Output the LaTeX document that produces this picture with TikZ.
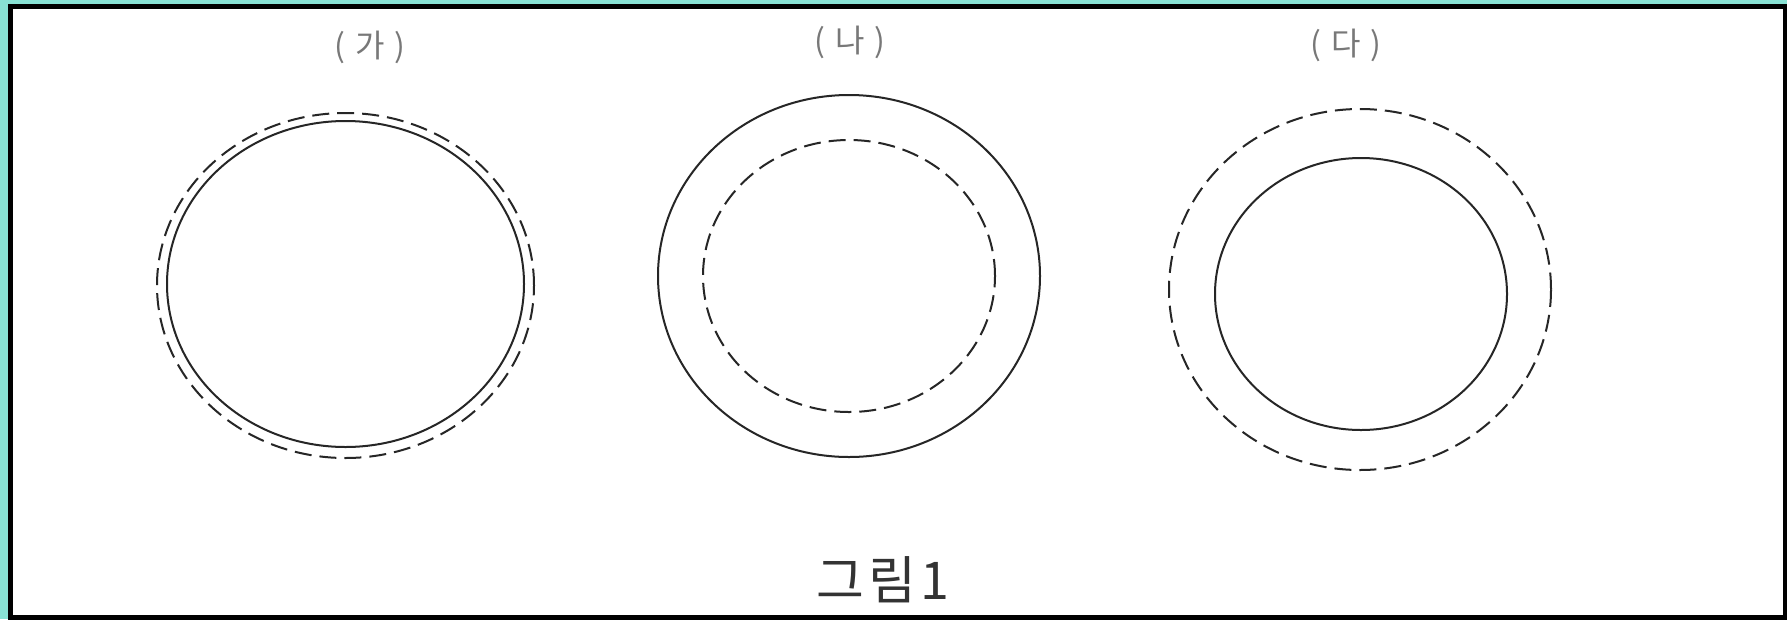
\documentclass[tikz,border=0pt]{standalone}
\usepackage{fontspec}
\newfontfamily\kr{Noto Sans CJK KR}
\definecolor{teal0}{RGB}{136,226,212}
\definecolor{labgray}{RGB}{120,120,120}
\tikzset{
  solidring/.style={draw=black!85, line width=2pt},
  dashring/.style={draw=black!85, line width=2pt, dash pattern=on 17pt off 8pt},
  lab/.style={text=labgray, font=\kr\fontsize{32}{36}\selectfont, inner sep=0pt},
  captext/.style={text=black!80, font=\kr\fontsize{52}{58}\selectfont, inner sep=0pt}
}
\begin{document}
\begin{tikzpicture}[x=1pt,y=-1pt]
\useasboundingbox (0,0) rectangle (1787,619);
\fill[teal0] (0,0) rectangle (1787,619);
\draw[line width=5pt, fill=white] (10.5,6) rectangle (1785.5,617.5);
% (ga)
\draw[dashring] (345.5,285.5) ellipse [x radius=188.5pt, y radius=172.5pt];
\draw[solidring] (345.5,284) ellipse [x radius=178.5pt, y radius=163pt];
% (na)
\draw[solidring] (849,276) ellipse [x radius=191pt, y radius=181pt];
\draw[dashring] (849,276) ellipse [x radius=146pt, y radius=136pt];
% (da)
\draw[dashring] (1360,289.5) ellipse [x radius=191pt, y radius=180.5pt];
\draw[solidring] (1361,294) ellipse [x radius=146pt, y radius=136pt];
% labels
\node[lab] (lga) at (370,47) {(\hspace{0.3em}가\hspace{0.3em})};
\node[lab] (lna) at (850,42) {(\hspace{0.3em}나\hspace{0.3em})};
\node[lab] (lda) at (1346,45) {(\hspace{0.3em}다\hspace{0.3em})};
\node[captext] (caption) at (883,580) {그\hspace{0.08em}림\hspace{0.08em}1};
\end{tikzpicture}
\end{document}
